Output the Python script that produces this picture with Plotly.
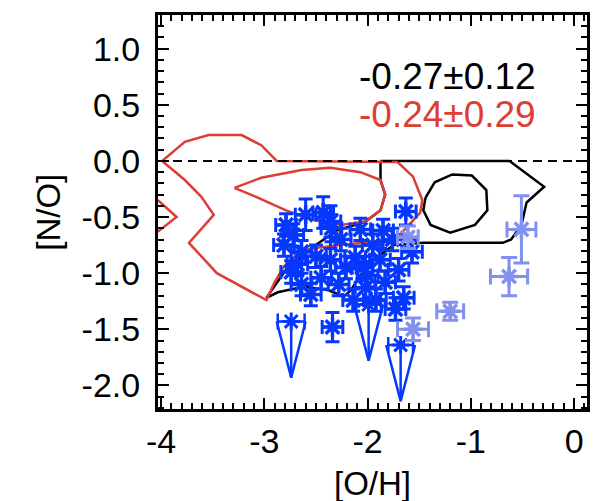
import plotly.graph_objects as go

# ---------------- data ----------------
# black contour (outer) and inner loop, in ([O/H], [N/O])
black_outer_x = [-1.875, -0.625, -0.29, -0.46, -0.51, -0.61, -0.69, -1.46, -1.75, -2.0, -2.16, -2.23, -2.38, -2.62, -2.87, -2.98, -2.80, -2.55, -2.30, -2.02, -1.875, -1.83, -1.875, -1.875]
black_outer_y = [0.0, 0.0, -0.23, -0.37, -0.57, -0.70, -0.73, -0.73, -0.75, -0.92, -1.15, -1.21, -1.15, -1.12, -1.17, -1.22, -0.98, -0.78, -0.62, -0.54, -0.44, -0.30, -0.17, 0.0]
black_inner_x = [-1.44, -1.35, -1.18, -0.99, -0.85, -0.84, -0.96, -1.20, -1.39, -1.46, -1.44]
black_inner_y = [-0.33, -0.19, -0.12, -0.13, -0.26, -0.44, -0.57, -0.64, -0.57, -0.44, -0.33]

# red contours
red_outer_x = [-3.99, -3.77, -3.61, -3.49, -3.73, -3.46, -2.98, -2.90, -2.81, -2.64, -2.26, -1.73, -1.49, -1.47, -1.56, -1.71, -2.88, -3.03, -3.22, -3.54, -3.77, -3.99]
red_outer_y = [0.0, -0.17, -0.32, -0.48, -0.73, -1.00, -1.24, -1.08, -0.94, -0.79, -0.75, -0.70, -0.46, -0.35, -0.14, -0.01, 0.0, 0.14, 0.23, 0.23, 0.17, 0.0]
red_notch_x = [-4.03, -3.85, -4.03]
red_notch_y = [-0.35, -0.50, -0.63]
red_inner_x = [-3.29, -3.03, -2.64, -2.36, -2.07, -1.875, -1.83, -1.875, -2.02, -2.26, -2.55, -2.79, -3.08, -3.29]
red_inner_y = [-0.24, -0.15, -0.08, -0.06, -0.10, -0.17, -0.30, -0.44, -0.54, -0.57, -0.52, -0.44, -0.32, -0.24]

# dark blue measurements
dark_x = [-2.43, -2.72, -2.64, -2.81, -2.26, -2.12, -1.95, -1.76, -1.57, -2.45, -2.21, -2.02, -1.83, -1.65, -1.63, -2.55, -2.14, -2.74, -1.70, -2.34,
          -2.35, -2.05, -2.60, -2.36, -2.79, -2.64, -2.36, -2.07, -1.88, -1.92, -1.73, -2.50, -2.28, -1.85, -2.00, -2.68]
dark_y = [-0.46, -0.66, -0.81, -0.75, -0.70, -0.86, -0.75, -0.70, -0.81, -1.04, -0.95, -1.13, -1.08, -1.22, -0.45, -1.19, -1.24, -0.99, -0.97, -1.48,
          -0.60, -0.95, -0.48, -0.54, -0.57, -1.10, -0.88, -0.61, -0.88, -1.24, -1.32, -0.85, -1.10, -0.62, -1.02, -0.92]
dark_xerr = [0.10] * len(dark_x)
dark_yerr = [0.14, 0.10, 0.10, 0.10, 0.10, 0.10, 0.10, 0.10, 0.10, 0.10, 0.10, 0.10, 0.10, 0.10, 0.12, 0.10, 0.10, 0.10, 0.10, 0.13,
             0.12, 0.10, 0.14, 0.14, 0.10, 0.10, 0.10, 0.10, 0.10, 0.10, 0.10, 0.10, 0.10, 0.10, 0.10, 0.10]

# dark blue upper limits
ul_x = [-2.74, -1.99, -1.68]
ul_y = [-1.43, -1.28, -1.64]
ul_xerr = [0.13, 0.12, 0.12]

# light blue measurements
light_x = [-0.51, -0.63, -1.20, -1.56, -1.61]
light_y = [-0.61, -1.03, -1.34, -1.50, -0.68]
light_xerr = [0.14, 0.18, 0.13, 0.15, 0.10]
light_yerr = [0.30, 0.17, 0.08, 0.10, 0.10]

x_tickvals = [-4, -3, -2, -1, 0]
x_ticktext = ["-4", "-3", "-2", "-1", "0"]
y_tickvals = [1.0, 0.5, 0.0, -0.5, -1.0, -1.5, -2.0]
y_ticktext = ["1.0", "0.5", "0.0", "-0.5", "-1.0", "-1.5", "-2.0"]

label_black = "-0.27±0.12"
label_red = "-0.24±0.29"

# ---------------- styles ----------------
DARK = "rgb(5,55,255)"
LIGHT = "rgb(130,145,240)"
RED = "rgb(220,62,50)"
FONT = "Liberation Sans"
ARROW_LEN = 0.5
ARROW_HW = 0.14

fig = go.Figure()

def line_trace(x, y, color, width=2.5):
    return go.Scatter(x=x, y=y, mode="lines", line=dict(color=color, width=width),
                      hoverinfo="skip", showlegend=False)

fig.add_trace(line_trace(black_outer_x, black_outer_y, "black"))
fig.add_trace(line_trace(black_inner_x, black_inner_y, "black"))
fig.add_trace(line_trace(red_outer_x, red_outer_y, RED))
fig.add_trace(line_trace(red_notch_x, red_notch_y, RED))
fig.add_trace(line_trace(red_inner_x, red_inner_y, RED))

# upper-limit arrows built from the data points
ax, ay = [], []
for x, y in zip(ul_x, ul_y):
    tip = y - ARROW_LEN
    ax += [x, x, None, x - ARROW_HW, x, x + ARROW_HW, None]
    ay += [y, tip, None, y, tip, y, None]
fig.add_trace(line_trace(ax, ay, DARK, 2.5))

fig.add_trace(go.Scatter(
    x=ul_x, y=ul_y, mode="markers",
    marker=dict(symbol="asterisk-open", size=15, color=DARK, line=dict(color=DARK, width=3)),
    error_x=dict(type="data", array=ul_xerr, color=DARK, thickness=2.5, width=8),
    showlegend=False))

fig.add_trace(go.Scatter(
    x=dark_x, y=dark_y, mode="markers",
    marker=dict(symbol="asterisk-open", size=16, color=DARK, line=dict(color=DARK, width=3.5)),
    error_x=dict(type="data", array=dark_xerr, color=DARK, thickness=3, width=7),
    error_y=dict(type="data", array=dark_yerr, color=DARK, thickness=3, width=7),
    showlegend=False))

fig.add_trace(go.Scatter(
    x=light_x, y=light_y, mode="markers",
    marker=dict(symbol="asterisk-open", size=16, color=LIGHT, line=dict(color=LIGHT, width=3.5)),
    error_x=dict(type="data", array=light_xerr, color=LIGHT, thickness=3, width=8),
    error_y=dict(type="data", array=light_yerr, color=LIGHT, thickness=3, width=8),
    showlegend=False))

# zero line
fig.add_shape(type="line", xref="paper", x0=0, x1=1, yref="y", y0=0, y1=0,
              line=dict(color="black", width=2, dash="9px,6px"), layer="above")

fig.add_annotation(x=-2.10, y=0.75, xref="x", yref="y", text=label_black, showarrow=False,
                   xanchor="left", yanchor="middle", font=dict(family=FONT, size=37, color="black"))
fig.add_annotation(x=-2.10, y=0.41, xref="x", yref="y", text=label_red, showarrow=False,
                   xanchor="left", yanchor="middle", font=dict(family=FONT, size=37, color=RED))

# axis titles
fig.add_annotation(x=-0.257, y=0.5, xref="paper", yref="paper", text="[N/O]", textangle=-90,
                   showarrow=False, xanchor="center", yanchor="middle",
                   font=dict(family=FONT, size=33, color="black"))
fig.add_annotation(x=0.5, y=-0.19, xref="paper", yref="paper", text="[O/H]",
                   showarrow=False, xanchor="center", yanchor="middle",
                   font=dict(family=FONT, size=33, color="black"))

axis_common = dict(showgrid=False, zeroline=False, showline=True, linecolor="black", linewidth=3,
                   mirror="ticks", ticks="inside", ticklen=11, tickwidth=2, tickcolor="black",
                   tickfont=dict(family=FONT, size=34, color="black"),
                   minor=dict(ticks="inside", ticklen=6, tickwidth=2, tickcolor="black", dtick=0.1))

fig.update_xaxes(range=[-4.03, 0.125], tickmode="array", tickvals=x_tickvals, ticktext=x_ticktext,
                 ticklabelstandoff=0, **axis_common)
fig.update_yaxes(range=[-2.21, 1.30], tickmode="array", tickvals=y_tickvals, ticktext=y_ticktext,
                 ticklabelstandoff=8, **axis_common)

fig.update_layout(width=599, height=501, margin=dict(l=158, r=9, t=15, b=92),
                  plot_bgcolor="white", paper_bgcolor="white", showlegend=False)

fig.write_html("out.html")
